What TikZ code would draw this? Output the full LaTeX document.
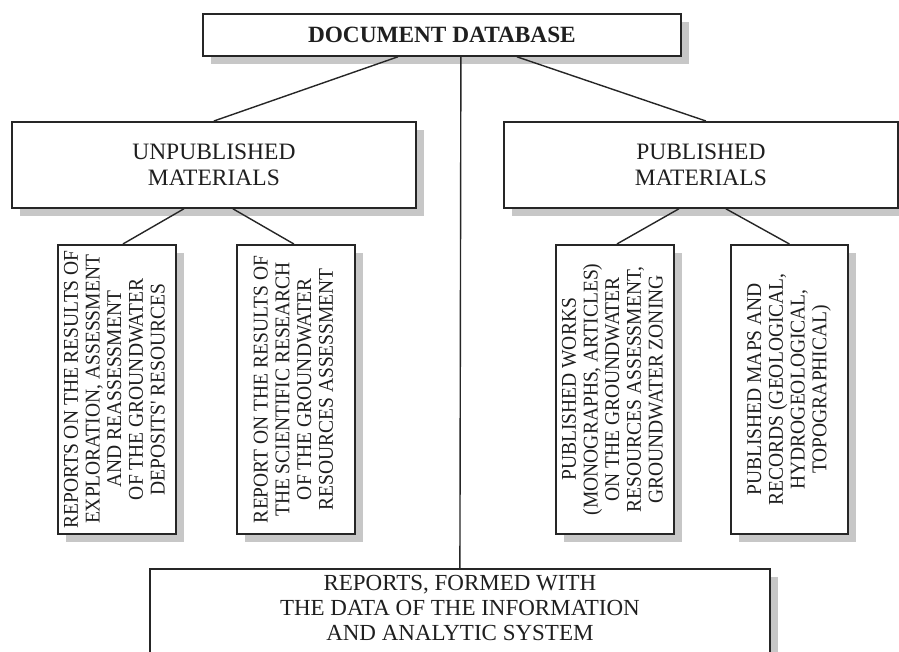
\documentclass[tikz,border=0pt]{standalone}
\usepackage{fontspec}
\setmainfont{Liberation Serif}
\newfontfamily\narrowserif[FakeStretch=0.93]{Liberation Serif}
\usetikzlibrary{calc,shadows}
\begin{document}
\begin{tikzpicture}[x=1pt,y=-1pt,
  box/.style={draw=black!85, line width=1.8pt, fill=white, rectangle,
    inner sep=0pt, anchor=north west,
    drop shadow={shadow xshift=8pt, shadow yshift=-8pt, fill=black!22, opacity=1}},
  link/.style={draw=black!85, line width=1.4pt},
  bigtxt/.style={text=black!88, align=center, font=\fontsize{23.5}{26}\selectfont},
  reptxt/.style={text=black!88, align=center, font=\fontsize{23}{25}\selectfont},
  vbox/.style={box, minimum width=118pt, minimum height=289pt,
    font=\narrowserif\fontsize{21}{21.7}\selectfont, text=black!88}]
\clip (0,0) rectangle (899,651);
\fill[white] (0,0) rectangle (899,651);

% top level
\node[box, minimum width=478pt, minimum height=42pt, text=black!88,
  font=\fontsize{23.3}{26}\selectfont\bfseries] (db) at (202,13) {DOCUMENT DATABASE};

% second level
\node[box, minimum width=404pt, minimum height=86pt, bigtxt] (unp) at (11,121)
  {UNPUBLISHED\\MATERIALS};
\node[box, minimum width=394pt, minimum height=86pt, bigtxt] (pub) at (503,121)
  {PUBLISHED\\MATERIALS};

% vertical leaves
\node[vbox] (c1) at (57,244) {\rotatebox{90}{\begin{tabular}{@{}c@{}}
  REPORTS ON THE RESULTS OF\\ EXPLORATION, ASSESSMENT\\ AND REASSESSMENT\\
  OF THE GROUNDWATER\\ DEPOSITS' RESOURCES\end{tabular}}};
\node[vbox] (c2) at (236,244) {\rotatebox{90}{\begin{tabular}{@{}c@{}}
  REPORT ON THE RESULTS OF\\ THE SCIENTIFIC RESEARCH\\ OF THE GROUNDWATER\\
  RESOURCES ASSESSMENT\end{tabular}}};
\node[vbox] (c3) at (555,244) {\rotatebox{90}{\begin{tabular}{@{}c@{}}
  PUBLISHED WORKS\\ (MONOGRAPHS, ARTICLES)\\ ON THE GROUNDWATER\\
  RESOURCES ASSESSMENT,\\ GROUNDWATER ZONING\end{tabular}}};
\node[vbox, minimum width=117pt] (c4) at (730,244) {\rotatebox{90}{\begin{tabular}{@{}c@{}}
  PUBLISHED MAPS AND\\ RECORDS (GEOLOGICAL,\\ HYDROGEOLOGICAL,\\
  TOPOGRAPHICAL)\end{tabular}}};

% bottom box, running past the lower edge
\node[box, minimum width=620pt, minimum height=130pt] (rep) at (149,568) {};
\node[reptxt] (repText) at ($(rep.north)+(0,40)$)
  {REPORTS, FORMED WITH\\THE DATA OF THE INFORMATION\\AND ANALYTIC SYSTEM};

% connectors
\draw[link] ($(db.south)+(-44,0)$) -- (unp.north);
\draw[link] ($(db.south)+(75,0)$) -- ($(pub.north)+(5,0)$);
\draw[link] ($(db.south)+(19,0)$) -- (rep.north);
\draw[link] ($(unp.south)+(-30,0)$) -- ($(c1.north)+(6,0)$);
\draw[link] ($(unp.south)+(19,0)$) -- ($(c2.north)+(-2,0)$);
\draw[link] ($(pub.south)+(-22,0)$) -- ($(c3.north)+(2,0)$);
\draw[link] ($(pub.south)+(25,0)$) -- (c4.north);
\end{tikzpicture}
\end{document}
